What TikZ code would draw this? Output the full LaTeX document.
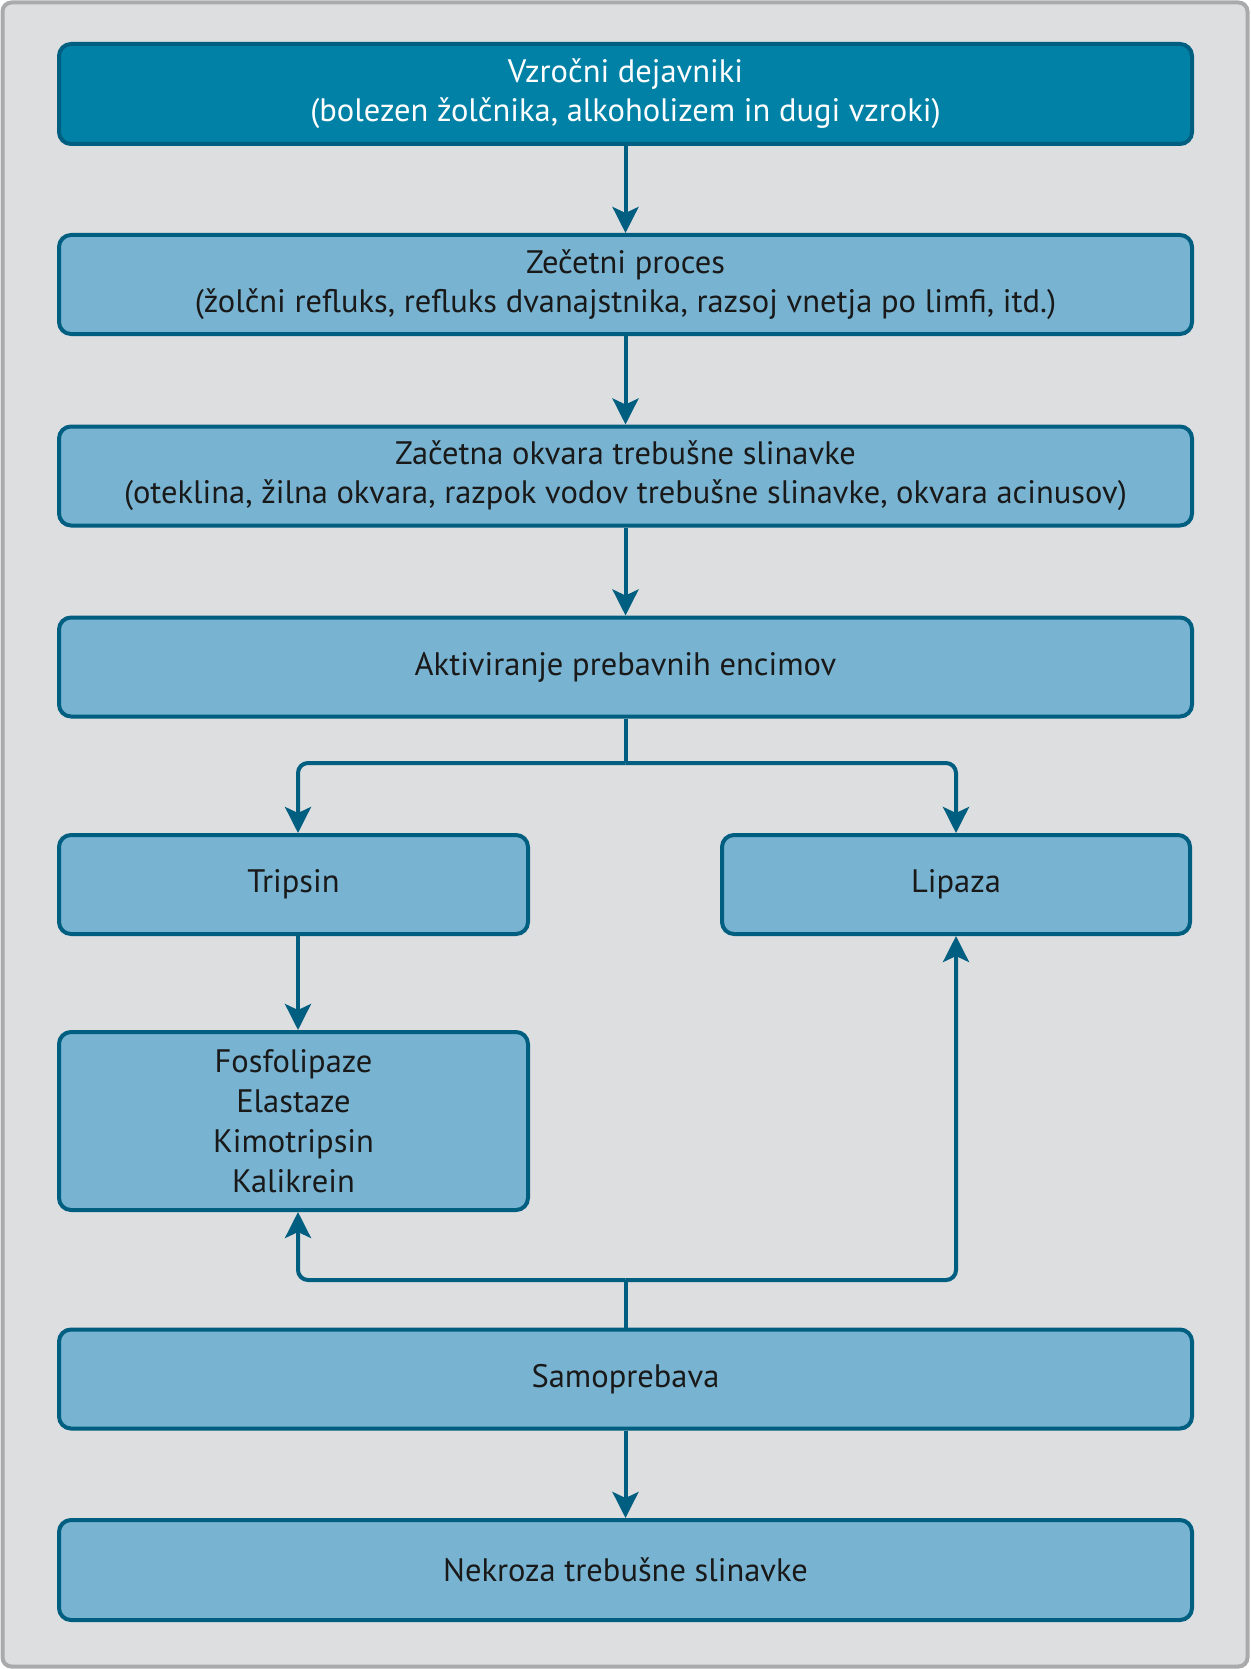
\documentclass[tikz,border=0pt]{standalone}
\usepackage{fontspec}
\setmainfont{PT Sans}
\usetikzlibrary{arrows.meta}
\definecolor{bgc}{HTML}{DDDEE0}
\definecolor{framec}{HTML}{A9AAAC}
\definecolor{darkfill}{HTML}{0081A5}
\definecolor{lightfill}{HTML}{78B4D2}
\definecolor{edgec}{HTML}{005E80}
\begin{document}
\begin{tikzpicture}[x=1pt,y=-1pt,
  box/.style={draw=edgec, line width=4pt, rounded corners=12pt, fill=lightfill,
    inner sep=0pt, minimum height=99pt, align=center, text=black!90,
    font=\fontsize{32.5}{39}\selectfont},
  widebox/.style={box, minimum width=1133pt},
  halfbox/.style={box, minimum width=469pt},
  topbox/.style={widebox, fill=darkfill, text=white},
  arr/.style={draw=edgec, line width=4pt, -{Stealth[length=26pt,width=26pt,inset=6pt]}},
  ln/.style={draw=edgec, line width=4pt},
]
\useasboundingbox (0,0) rectangle (1250,1669);
\draw[fill=bgc, draw=framec, line width=4pt, rounded corners=9pt] (2.5,2.5) rectangle (1247.5,1666.5);

\node[topbox, minimum height=100pt] (b1) at (625.5,94) {Vzročni dejavniki\\(bolezen žolčnika, alkoholizem in dugi vzroki)};
\node[widebox] (b2) at (625.5,284.5) {Zečetni proces\\(žolčni refluks, refluks dvanajstnika, razsoj vnetja po limfi, itd.)};
\node[widebox] (b3) at (625.5,476) {Začetna okvara trebušne slinavke\\(oteklina, žilna okvara, razpok vodov trebušne slinavke, okvara acinusov)};
\node[widebox] (b4) at (625.5,667) {Aktiviranje prebavnih encimov};
\node[halfbox] (trip) at (293.5,884.5) {Tripsin};
\node[halfbox, minimum width=468pt] (lip) at (956,884.5) {Lipaza};
\node[halfbox, minimum height=178pt, font=\fontsize{32.5}{40}\selectfont] (fos) at (293.5,1121) {Fosfolipaze\\Elastaze\\Kimotripsin\\Kalikrein};
\node[widebox] (samo) at (625.5,1379) {Samoprebava};
\node[widebox, minimum height=100pt] (nek) at (625.5,1570) {Nekroza trebušne slinavke};

\coordinate (j1) at (625.5,763);
\coordinate (j2) at (625.5,1280);

\draw[arr] (b1) -- (b2);
\draw[arr] (b2) -- (b3);
\draw[arr] (b3) -- (b4);
\draw[ln] (b4.south) -- (j1);
\draw[arr, rounded corners=10pt] (j1) -| ([xshift=4.5pt]trip.north);
\draw[arr, rounded corners=10pt] (j1) -| (lip.north);
\draw[arr] ([xshift=4.5pt]trip.south) -- ([xshift=4.5pt]fos.north);
\draw[ln] (samo.north) -- (j2);
\draw[arr, rounded corners=10pt] (j2) -| ([xshift=4.5pt]fos.south);
\draw[arr, rounded corners=10pt] (j2) -| (lip.south);
\draw[arr] (samo) -- (nek);
\end{tikzpicture}
\end{document}
